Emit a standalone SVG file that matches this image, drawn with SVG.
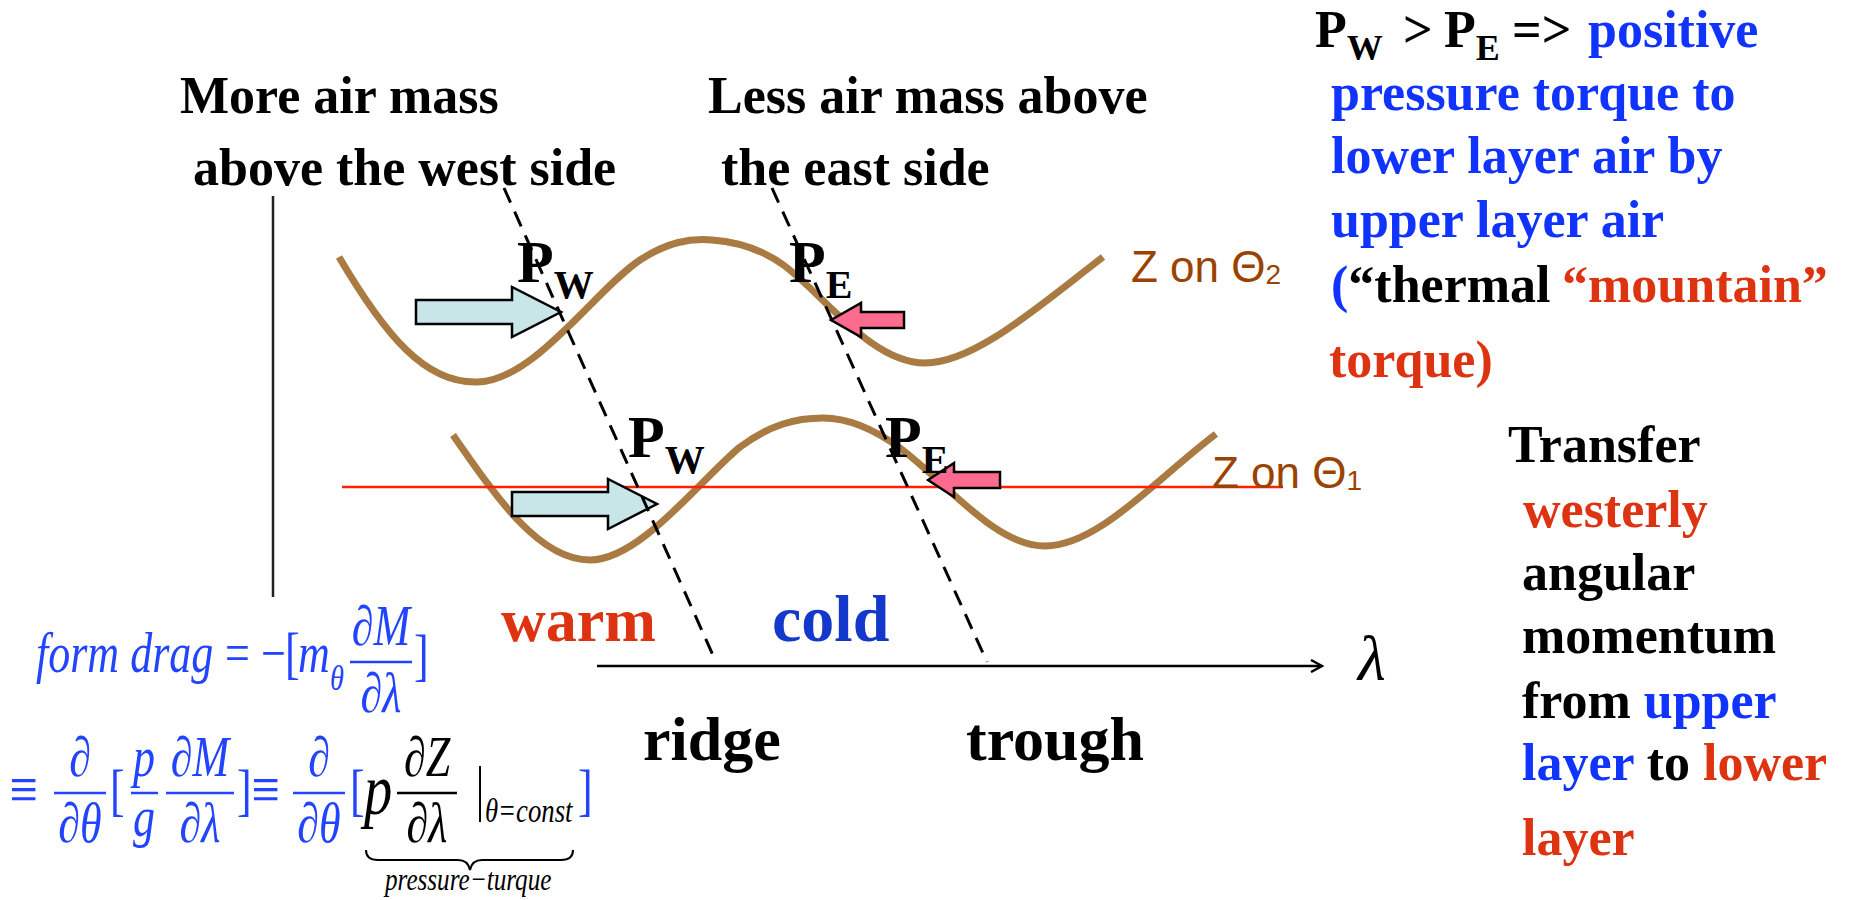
<svg xmlns="http://www.w3.org/2000/svg" width="1872" height="900" viewBox="0 0 1872 900">
<style>
.t{font-family:"Liberation Serif","Times New Roman",serif;font-weight:bold;font-size:52px;fill:#000}
.big{font-size:62px}
.fi{font-family:"Liberation Serif","DejaVu Serif",serif;font-style:italic;font-size:56px;fill:#2244ff}
.fu{font-family:"Liberation Serif","DejaVu Serif",serif;font-size:56px;fill:#2244ff}
.sub{font-size:36px}
.bp{font-size:72px}
.cs{font-size:34px}
.pt{font-size:32px}
.eq{font-size:64px}
.blk{fill:#000}
.mid{text-anchor:middle}
.fb{stroke:#2244ff;stroke-width:2.5}
.fk{stroke:#000;stroke-width:2.5}
.wave{fill:none;stroke:#a97a42;stroke-width:7}
.dash{stroke:#000;stroke-width:3;stroke-dasharray:16 10;fill:none}
.barr{fill:#c8e6e8;stroke:#000;stroke-width:2.5}
.parr{fill:#ff6b8e;stroke:#000;stroke-width:2.5}
.zl{font-family:"Liberation Sans",Arial,sans-serif;font-size:44px;fill:#9a4200}
.P{font-family:"Liberation Serif","Times New Roman",serif;font-weight:bold;font-size:60px;fill:#000}
.blue{fill:#1133ff}
.red{fill:#dd3311}
</style>
<defs>
<marker id="chev" markerWidth="14" markerHeight="14" refX="12" refY="7" orient="auto" markerUnits="userSpaceOnUse">
<path d="M1,1 L12,7 L1,13" fill="none" stroke="#000" stroke-width="2.5"/>
</marker>
</defs>

<g id="vertical-axis"><line x1="273" y1="196" x2="273" y2="597" stroke="#222" stroke-width="2.5"/></g>

<g id="wave-theta2"><path class="wave" d="M339 257 C385 335 425 384 478 382 C535 380 595 290 640 260 C668 242 690 238 712 240 C740 242 762 250 782 264 C822 292 870 363 925 363 C975 363 1040 305 1103 257"/></g>
<g id="wave-theta1"><path class="wave" d="M453 435 C498 500 540 560 590 560 C640 560 700 480 740 447 C770 425 795 418 823 418 C850 418 878 432 900 448 C948 484 995 546 1045 546 C1098 546 1155 480 1216 434"/></g>
<g id="red-line"><line x1="342" y1="487" x2="1283" y2="487" stroke="#ff2200" stroke-width="2.5"/></g>

<g id="arrow-pw-upper"><polygon class="barr" points="416,300 512,300 512,287 561,312 512,337 512,324 416,324"/></g>
<g id="arrow-pw-lower"><polygon class="barr" points="512,492 608,492 608,479 657,504 608,529 608,516 512,516"/></g>
<g id="arrow-pe-upper"><polygon class="parr" points="831,320 861,303 861,312 904,312 904,328 861,328 861,337"/></g>
<g id="arrow-pe-lower"><polygon class="parr" points="928,480 954,463 954,472 1000,472 1000,488 954,488 954,497"/></g>

<g id="label-pw-upper"><text class="P" x="517" y="282">P<tspan font-size="40" dy="16">W</tspan></text></g>
<g id="label-pe-upper"><text class="P" x="789" y="282">P<tspan font-size="40" dy="16">E</tspan></text></g>
<g id="label-pw-lower"><text class="P" x="628" y="457">P<tspan font-size="40" dy="16">W</tspan></text></g>
<g id="label-pe-lower"><text class="P" x="885" y="457">P<tspan font-size="40" dy="16">E</tspan></text></g>

<g id="label-z2"><text class="zl" x="1131" y="282">Z on Θ<tspan font-size="28" dy="2">2</tspan></text></g>
<g id="label-z1"><text class="zl" x="1212" y="488">Z on Θ<tspan font-size="28" dy="2">1</tspan></text></g>

<g id="connectors">
<line class="dash" x1="504" y1="188" x2="716" y2="662"/>
<line class="dash" x1="772" y1="188" x2="987" y2="662"/>
<line x1="597" y1="666" x2="1322" y2="666" stroke="#000" stroke-width="2.5" marker-end="url(#chev)"/>
</g>

<g id="label-lambda"><text x="1358" y="680" font-family="Liberation Serif, serif" font-style="italic" font-size="64" fill="#000">λ</text></g>

<g id="label-west"><text class="t" x="180" y="113">More air mass</text><text class="t" x="193" y="185">above the west side</text></g>
<g id="label-east"><text class="t" x="708" y="113">Less air mass above</text><text class="t" x="721" y="185">the east side</text></g>

<g id="label-warm"><text class="t big red" x="501" y="641">warm</text></g>
<g id="label-cold"><text class="t" x="772" y="641" style="font-size:66px;fill:#1438cc">cold</text></g>
<g id="label-ridge"><text class="t big" x="643" y="760">ridge</text></g>
<g id="label-trough"><text class="t big" x="966" y="760">trough</text></g>

<g id="note-torque">
<text class="t" x="1315" y="47">P<tspan font-size="36" dy="13">W</tspan></text>
<text class="t" x="1403" y="47">&gt;</text>
<text class="t" x="1444" y="47">P<tspan font-size="36" dy="13">E</tspan></text>
<text class="t" x="1512" y="47">=&gt;</text>
<text class="t blue" x="1588" y="47">positive</text>
<text class="t blue" x="1331" y="110">pressure torque to</text>
<text class="t blue" x="1331" y="173">lower layer air by</text>
<text class="t blue" x="1331" y="237">upper layer air</text>
<text class="t" x="1331" y="302"><tspan class="blue">(</tspan>“thermal</text>
<text class="t red" x="1562" y="302">“mountain”</text>
<text class="t red" x="1329" y="377">torque)</text>
</g>

<g id="note-transfer">
<text class="t" x="1508" y="462">Transfer</text>
<text class="t red" x="1523" y="527">westerly</text>
<text class="t" x="1522" y="590">angular</text>
<text class="t" x="1522" y="653">momentum</text>
<text class="t" x="1522" y="718">from <tspan class="blue">upper</tspan></text>
<text class="t" x="1522" y="780"><tspan class="blue">layer</tspan> to <tspan class="red">lower</tspan></text>
<text class="t red" x="1522" y="855">layer</text>
</g>

<g id="formula">
<g transform="scale(0.786,1)">
<text class="fi" x="45.8" y="672">form drag</text>
<text class="fu" x="286.3" y="672">=</text>
<text class="fu" x="332.1" y="672">−</text>
<text class="fu" x="362.6" y="672">[</text>
<text class="fi" x="379.1" y="672">m</text>
<text class="fi sub" x="419.8" y="690">θ</text>
<text class="fi mid" x="484.7" y="645">∂M</text>
<line class="fb" x1="445.3" y1="662" x2="524.2" y2="662"/>
<text class="fi mid" x="484.7" y="712">∂λ</text>
<text class="fu" x="526.7" y="674">]</text>

<text class="fu eq" x="12" y="811">≡</text>
<text class="fi mid" x="101.8" y="776">∂</text>
<line class="fb" x1="68.7" y1="793" x2="134.9" y2="793"/>
<text class="fi mid" x="101.8" y="842">∂θ</text>
<text class="fu" x="139.9" y="809">[</text>
<text class="fi mid" x="183.2" y="776">p</text>
<line class="fb" x1="166.7" y1="793" x2="201" y2="793"/>
<text class="fi mid" x="183.2" y="836">g</text>
<text class="fi mid" x="254.5" y="776">∂M</text>
<line class="fb" x1="211.2" y1="793" x2="297.7" y2="793"/>
<text class="fi mid" x="254.5" y="842">∂λ</text>
<text class="fu" x="301.5" y="809">]</text>
<text class="fu eq" x="320" y="811">≡</text>
<text class="fi mid" x="405.9" y="776">∂</text>
<line class="fb" x1="372.8" y1="793" x2="438.9" y2="793"/>
<text class="fi mid" x="405.9" y="842">∂θ</text>
<text class="fu" x="445.3" y="809">[</text>
<text class="fi blk bp" x="463.1" y="814">p</text>
<text class="fi blk mid" x="543.3" y="776">∂Z</text>
<line class="fk" x1="505.1" y1="793" x2="581.4" y2="793"/>
<text class="fi blk mid" x="543.3" y="842">∂λ</text>
<line x1="610.7" y1="766" x2="610.7" y2="822" stroke="#000" stroke-width="2.5"/>
<text class="fi blk cs" x="617" y="822">θ=const</text>
<text class="fu" x="735.4" y="809">]</text>
<text class="fi blk pt" x="489.8" y="890">pressure−turque</text>
</g>
<path d="M366 850 Q366 860 378 860 L458 860 Q468 860 470 870 Q472 860 482 860 L561 860 Q573 860 573 850" fill="none" stroke="#000" stroke-width="2"/>
</g>
</svg>
